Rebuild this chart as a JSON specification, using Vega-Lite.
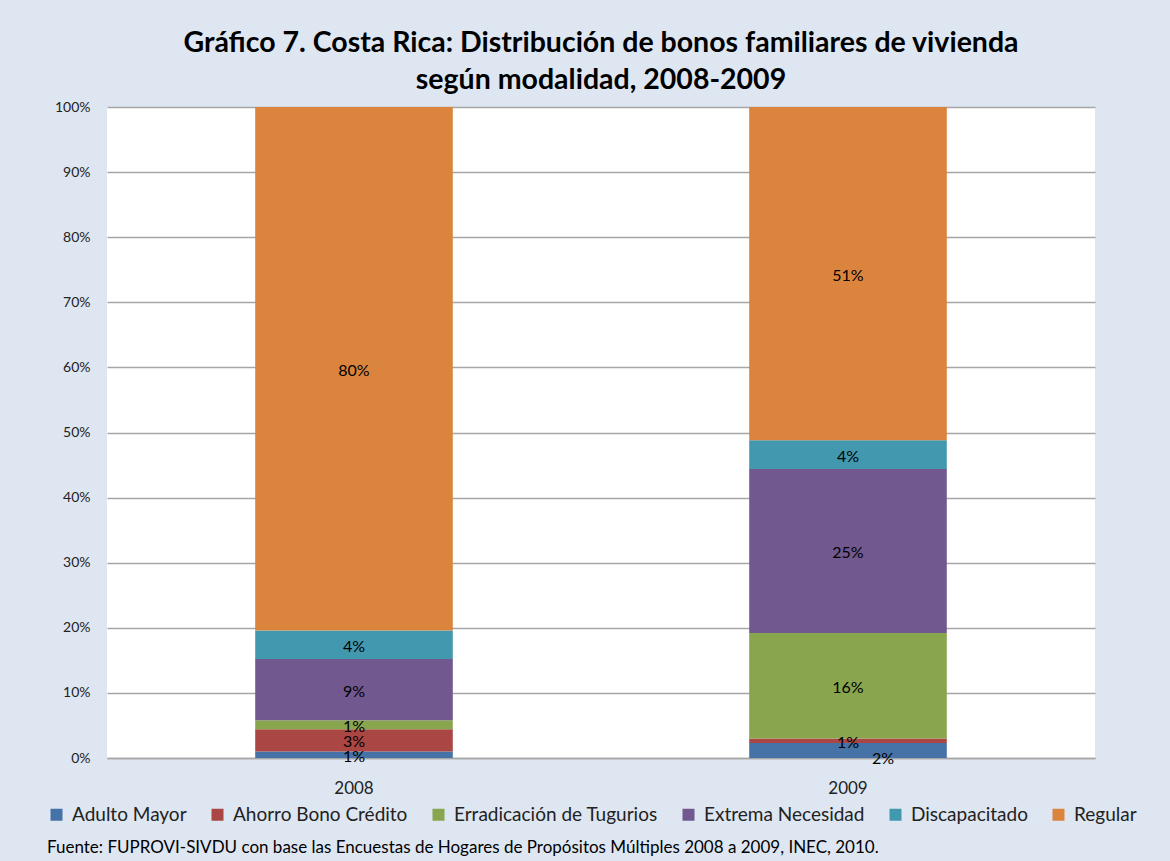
{
  "$schema": "https://vega.github.io/schema/vega-lite/v6.json",
  "autosize": "none",
  "width": 988,
  "height": 651,
  "padding": {"left": 107, "top": 107, "right": 75, "bottom": 103},
  "background": "#dee6f2",
  "title": {
    "text": ["Gráfico 7. Costa Rica: Distribución de bonos familiares de vivienda", "según modalidad, 2008-2009"],
    "fontSize": 28.5,
    "font": "Lato",
    "fontWeight": "bold",
    "color": "#000000",
    "lineHeight": 37,
    "anchor": "middle",
    "offset": 6
  },
  "data": {
    "values": [
      {"year": "2008", "category": "Adulto Mayor", "order": 1, "value": 0.010},
      {"year": "2008", "category": "Ahorro Bono Crédito", "order": 2, "value": 0.034},
      {"year": "2008", "category": "Erradicación de Tugurios", "order": 3, "value": 0.014},
      {"year": "2008", "category": "Extrema Necesidad", "order": 4, "value": 0.094},
      {"year": "2008", "category": "Discapacitado", "order": 5, "value": 0.044},
      {"year": "2008", "category": "Regular", "order": 6, "value": 0.804},
      {"year": "2009", "category": "Adulto Mayor", "order": 1, "value": 0.023},
      {"year": "2009", "category": "Ahorro Bono Crédito", "order": 2, "value": 0.007},
      {"year": "2009", "category": "Erradicación de Tugurios", "order": 3, "value": 0.162},
      {"year": "2009", "category": "Extrema Necesidad", "order": 4, "value": 0.252},
      {"year": "2009", "category": "Discapacitado", "order": 5, "value": 0.044},
      {"year": "2009", "category": "Regular", "order": 6, "value": 0.512}
    ]
  },
  "transform": [
    {"stack": "value", "groupby": ["year"], "sort": [{"field": "order", "order": "ascending"}], "as": ["v0", "v1"]},
    {"calculate": "(datum.v0 + datum.v1) / 2", "as": "mid"}
  ],
  "encoding": {
    "x": {
      "field": "year",
      "type": "nominal",
      "scale": {"paddingInner": 0.6, "paddingOuter": 0.3},
      "axis": {
        "title": null,
        "labelAngle": 0,
        "ticks": false,
        "domainColor": "#a6a6a6",
        "domainWidth": 1.5,
        "labelFont": "Lato",
        "labelFontSize": 17,
        "labelColor": "#222222",
        "labelPadding": 22
      }
    }
  },
  "layer": [
    {
      "mark": {"type": "bar"},
      "encoding": {
        "y": {
          "field": "v1",
          "type": "quantitative",
          "scale": {"domain": [0, 1]},
          "axis": {
            "title": null,
            "format": ".0%",
            "values": [0, 0.1, 0.2, 0.3, 0.4, 0.5, 0.6, 0.7, 0.8, 0.9, 1],
            "grid": true,
            "gridColor": "#a6a6a6",
            "gridWidth": 1.5,
            "domain": false,
            "ticks": false,
            "labelFont": "Lato",
            "labelFontSize": 14,
            "labelColor": "#222222",
            "labelPadding": 17
          }
        },
        "y2": {"field": "v0"},
        "color": {
          "field": "category",
          "type": "nominal",
          "sort": ["Adulto Mayor", "Ahorro Bono Crédito", "Erradicación de Tugurios", "Extrema Necesidad", "Discapacitado", "Regular"],
          "scale": {
            "domain": ["Adulto Mayor", "Ahorro Bono Crédito", "Erradicación de Tugurios", "Extrema Necesidad", "Discapacitado", "Regular"],
            "range": ["#4572a7", "#aa4643", "#89a54e", "#71588f", "#4198af", "#db843d"]
          },
          "legend": {
            "orient": "none",
            "legendX": -60,
            "legendY": 698,
            "direction": "horizontal",
            "title": "Fuente: FUPROVI-SIVDU con base las Encuestas de Hogares de Propósitos Múltiples 2008  a  2009,  INEC, 2010.",
            "titleOrient": "bottom",
            "titleAnchor": "start",
            "titleFont": "Lato",
            "titleFontSize": 17,
            "titleFontWeight": "normal",
            "titleColor": "#000000",
            "titlePadding": 15,
            "titleLimit": 1100,
            "symbolType": "square",
            "symbolSize": 144,
            "symbolStrokeWidth": 0,
            "labelFont": "Lato",
            "labelFontSize": 19,
            "labelColor": "#222222",
            "labelOffset": 6,
            "columnPadding": 21,
            "labelLimit": 400
          }
        },
        "order": {"field": "order", "type": "quantitative"}
      }
    },
    {
      "transform": [{"filter": "!(datum.year == '2009' && datum.category == 'Adulto Mayor')"}],
      "mark": {"type": "text", "font": "Lato", "fontSize": 16, "color": "#000000", "baseline": "middle", "dy": 2},
      "encoding": {
        "y": {"field": "mid", "type": "quantitative"},
        "text": {"field": "value", "type": "quantitative", "format": ".0%"}
      }
    },
    {
      "transform": [{"filter": "datum.year == '2009' && datum.category == 'Adulto Mayor'"}],
      "mark": {"type": "text", "font": "Lato", "fontSize": 16, "color": "#000000", "baseline": "middle", "dx": 35, "dy": 8},
      "encoding": {
        "y": {"field": "mid", "type": "quantitative"},
        "text": {"field": "value", "type": "quantitative", "format": ".0%"}
      }
    }
  ],
  "config": {
    "view": {"stroke": null, "fill": "#ffffff"}
  }
}
